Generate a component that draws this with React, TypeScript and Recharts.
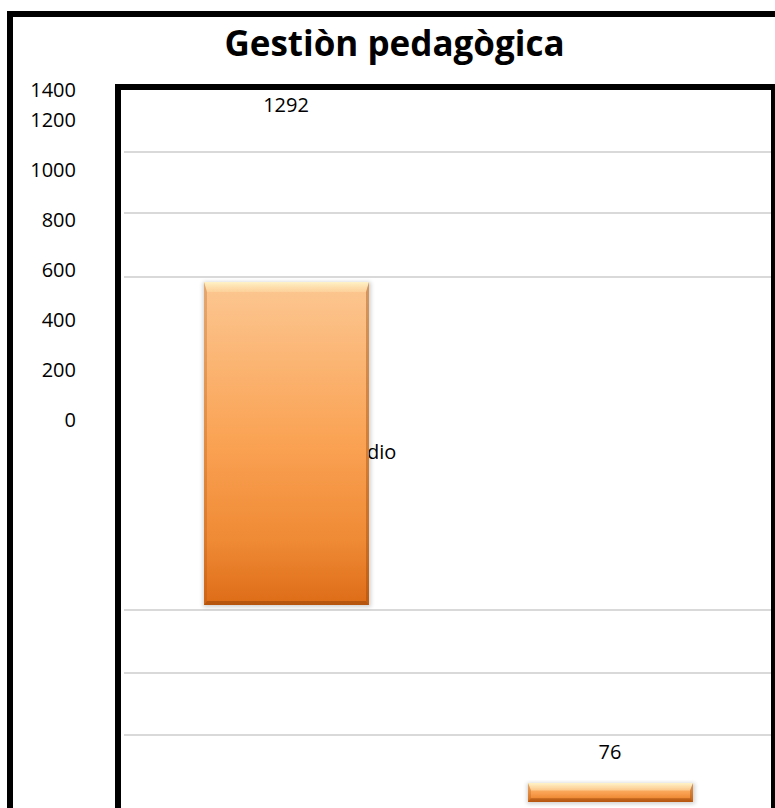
import React from 'react';
import { ComposedChart, Bar, Line, XAxis, YAxis, CartesianGrid, LabelList } from 'recharts';

const title = 'Gestiòn pedagògica';
const categories = ['Medio', ''];
const values = [1292, 76];
const barStarts = [808, 20];
const labelLevels = [2808, 220];
const axisTicks = [0, 200, 400, 600, 800, 1000, 1200];
const axisTopLabel = '1400';
const gridValues = [0, 288, 536, 788, 2120, 2376, 2620];
const valueDomain: [number, number] = [0, 2864];
const axisDomain: [number, number] = [-1548, 1316];

const data = categories.map((c, i) => ({
  category: c,
  value: values[i],
  range: [barStarts[i], barStarts[i] + values[i]],
  labelAt: labelLevels[i],
}));

const FONT = '"Open Sans", "Noto Sans", sans-serif';
const MARGIN = { top: 91, right: 3, bottom: 0, left: 0 };
const AXIS_W = 124;

const BevelBar = (props: any) => {
  const { x, y, width: w, height: h, index } = props;
  if (!w || !h) return null;
  const t = Math.min(10, h * 0.4);
  const s = 3;
  const b = Math.min(4, h * 0.2);
  const id = `bar${index}`;
  return (
    <g>
      <defs>
        <linearGradient id={`${id}main`} x1="0" y1="0" x2="0" y2="1">
          <stop offset="0%" stopColor="#fcc792" />
          <stop offset="50%" stopColor="#faa253" />
          <stop offset="80%" stopColor="#ef8a35" />
          <stop offset="100%" stopColor="#de6c17" />
        </linearGradient>
        <linearGradient id={`${id}top`} x1="0" y1="0" x2="0" y2="1">
          <stop offset="0%" stopColor="#fff3c8" stopOpacity={1} />
          <stop offset="100%" stopColor="#fdd9a2" stopOpacity={0.6} />
        </linearGradient>
        <filter id={`${id}sh`} x="-10%" y="-10%" width="120%" height="120%">
          <feGaussianBlur stdDeviation="2" />
        </filter>
      </defs>
      <rect x={x - 1} y={y} width={w + 3} height={h + 2} fill="#000" opacity={0.18} filter={`url(#${id}sh)`} />
      <rect x={x} y={y} width={w} height={h} fill={`url(#${id}main)`} />
      <polygon points={`${x},${y} ${x + w},${y} ${x + w - s},${y + t} ${x + s},${y + t}`} fill={`url(#${id}top)`} />
      <polygon points={`${x},${y} ${x + s},${y + t} ${x + s},${y + h - b} ${x},${y + h}`} fill="#9a4a10" opacity={0.25} />
      <polygon points={`${x + w},${y} ${x + w},${y + h} ${x + w - s},${y + h - b} ${x + w - s},${y + t}`} fill="#8a3d00" opacity={0.35} />
      <polygon points={`${x},${y + h} ${x + w},${y + h} ${x + w - s},${y + h - b} ${x + s},${y + h - b}`} fill="#7a3300" opacity={0.4} />
    </g>
  );
};

const HiddenBar = () => null;

const ValueLabel = (p: any) => {
  const vb = p.viewBox || p;
  const cx = (vb.x ?? p.x) + (vb.width || 0) / 2;
  const cy = (vb.y ?? p.y) + (vb.height || 0) / 2;
  return (
    <text x={cx} y={cy + 7} textAnchor="middle" fontSize={20} fill="#000" fontFamily={FONT}>
      {p.value}
    </text>
  );
};

const CategoryTick = (p: any) => {
  const v = p.payload?.value;
  if (!v) return null;
  return (
    <text x={p.x + 81} y={459} textAnchor="middle" fontSize={20} fill="#000" fontFamily={FONT}>
      {v}
    </text>
  );
};

const TopAxisLabel = (p: any) => {
  const vb = p.viewBox;
  return (
    <text x={vb.x + vb.width - 48} y={vb.y + 6} textAnchor="end" fontSize={20} fill="#000" fontFamily={FONT}>
      {axisTopLabel}
    </text>
  );
};

export default function App() {
  return (
    <div style={{ position: 'absolute', left: 0, top: 0, width: 775, height: 808, background: '#fff', fontFamily: FONT, overflow: 'hidden' }}>
      {/* back layer: grid and category labels (drawn behind the bars) */}
      <div style={{ position: 'absolute', left: 0, top: 0 }}>
        <ComposedChart width={775} height={808} data={data} margin={{ ...MARGIN, left: AXIS_W }} barSize={165}>
          <CartesianGrid
            yAxisId="val"
            vertical={false}
            stroke="#d9d9d9"
            strokeWidth={2}
            horizontalValues={gridValues}
          />
          <XAxis dataKey="category" height={1} axisLine={false} tickLine={false} interval={0} tick={<CategoryTick />} />
          <YAxis yAxisId="val" type="number" domain={valueDomain} ticks={gridValues} hide allowDataOverflow />
          <Bar yAxisId="val" dataKey="range" shape={<HiddenBar />} isAnimationActive={false} />
        </ComposedChart>
      </div>
      {/* front layer: axis labels, bars, value labels */}
      <div style={{ position: 'absolute', left: 0, top: 0 }}>
        <ComposedChart width={775} height={808} data={data} margin={MARGIN} barSize={165}>
          <XAxis dataKey="category" height={1} axisLine={false} tickLine={false} tick={false} />
          <YAxis
            yAxisId="lbl"
            type="number"
            domain={axisDomain}
            ticks={axisTicks}
            interval={0}
            width={AXIS_W}
            axisLine={false}
            tickLine={false}
            tickSize={0}
            tickMargin={48}
            tick={{ fontSize: 20, fill: '#000', fontFamily: FONT }}
            label={<TopAxisLabel />}
            allowDataOverflow
          />
          <YAxis yAxisId="val" type="number" domain={valueDomain} ticks={gridValues} hide allowDataOverflow />
          <Bar yAxisId="val" dataKey="range" shape={<BevelBar />} isAnimationActive={false} />
          <Line yAxisId="val" dataKey="labelAt" stroke="none" dot={false} activeDot={false} isAnimationActive={false}>
            <LabelList dataKey="value" content={<ValueLabel />} />
          </Line>
        </ComposedChart>
      </div>
      <svg width={775} height={808} style={{ position: 'absolute', left: 0, top: 0, pointerEvents: 'none' }}>
        <text x={394.5} y={56} textAnchor="middle" fontSize={35} fontWeight={700} fill="#000" fontFamily={FONT}>
          {title}
        </text>
        <rect x={10} y={14} width={800} height={820} fill="none" stroke="#000" strokeWidth={6} />
        <rect x={118} y={87} width={656} height={760} fill="none" stroke="#000" strokeWidth={6} />
      </svg>
    </div>
  );
}
